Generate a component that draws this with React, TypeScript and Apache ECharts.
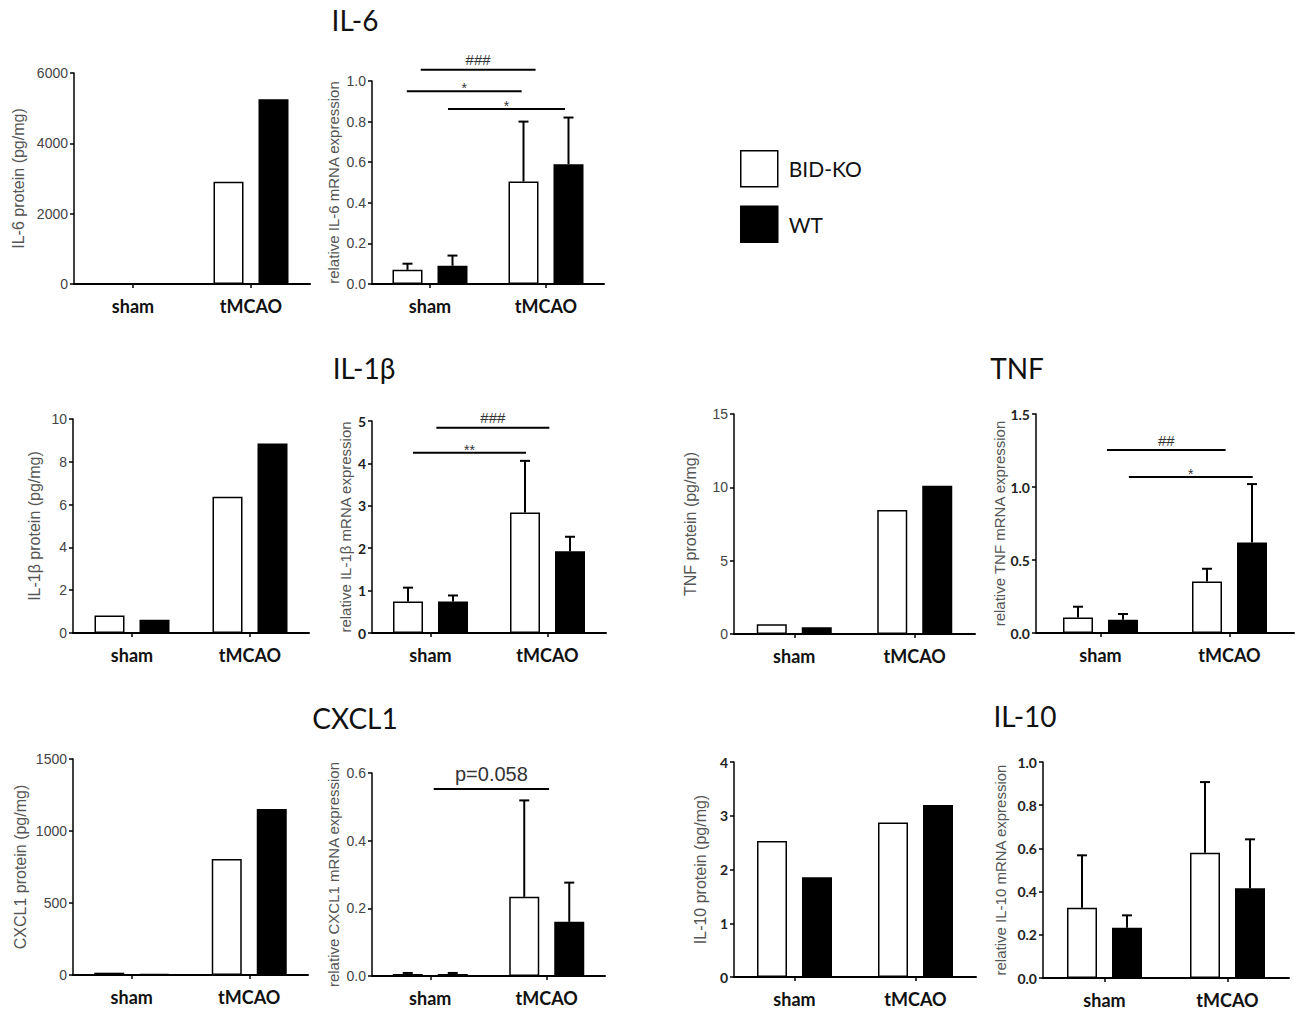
import React, { useEffect, useRef } from 'react';
import * as echarts from 'echarts';

// ---------- data ----------
const CATEGORIES = ['sham', 'tMCAO'];
const GROUPS = ['BID-KO', 'WT'];

const IL6_PROTEIN_KO = [0, 2905];
const IL6_PROTEIN_WT = [0, 5253];
const IL6_MRNA_KO = [0.07, 0.505];
const IL6_MRNA_KO_ERR = [0.03, 0.295];
const IL6_MRNA_WT = [0.09, 0.59];
const IL6_MRNA_WT_ERR = [0.05, 0.23];

const IL1B_PROTEIN_KO = [0.82, 6.37];
const IL1B_PROTEIN_WT = [0.62, 8.85];
const IL1B_MRNA_KO = [0.74, 2.84];
const IL1B_MRNA_KO_ERR = [0.33, 1.22];
const IL1B_MRNA_WT = [0.74, 1.93];
const IL1B_MRNA_WT_ERR = [0.145, 0.34];

const TNF_PROTEIN_KO = [0.66, 8.45];
const TNF_PROTEIN_WT = [0.46, 10.1];
const TNF_MRNA_KO = [0.107, 0.353];
const TNF_MRNA_KO_ERR = [0.073, 0.087];
const TNF_MRNA_WT = [0.09, 0.62];
const TNF_MRNA_WT_ERR = [0.04, 0.4];

const CXCL1_PROTEIN_KO = [16, 805];
const CXCL1_PROTEIN_WT = [7, 1152];
const CXCL1_MRNA_KO = [0.006, 0.234];
const CXCL1_MRNA_KO_ERR = [0.003, 0.285];
const CXCL1_MRNA_WT = [0.006, 0.16];
const CXCL1_MRNA_WT_ERR = [0.003, 0.116];

const IL10_PROTEIN_KO = [2.53, 2.875];
const IL10_PROTEIN_WT = [1.855, 3.2];
const IL10_MRNA_KO = [0.325, 0.58];
const IL10_MRNA_KO_ERR = [0.243, 0.327];
const IL10_MRNA_WT = [0.233, 0.415];
const IL10_MRNA_WT_ERR = [0.057, 0.227];

// significance brackets: [from (category units), to (category units), y value, label]
const IL6_SIG: any[] = [
  [-0.08, 0.91, 1.056, '###'],
  [-0.2, 0.79, 0.949, '*'],
  [0.155, 1.164, 0.862, '*'],
];
const IL1B_SIG: any[] = [
  [0.05, 1.016, 4.84, '###'],
  [-0.15, 0.816, 4.25, '**'],
];
const TNF_SIG: any[] = [
  [0.05, 0.97, 1.253, '##'],
  [0.22, 1.18, 1.068, '*'],
];
const CXCL1_SIG: any[] = [[0.03, 1.02, 0.553, 'p=0.058']];

const TITLES = [
  { text: 'IL-6', x: 355, y: 20 },
  { text: 'IL-1β', x: 364, y: 368 },
  { text: 'TNF', x: 1017, y: 368 },
  { text: 'CXCL1', x: 355, y: 718 },
  { text: 'IL-10', x: 1025, y: 716 },
];

// ---------- layout ----------
const PANELS: any[] = [
  { left: 74, right: 310, top: 73, bottom: 284, max: 6000, interval: 2000, dec: 0, name: 'IL-6 protein (pg/mg)', nameGap: 48, nameSize: 16, ko: IL6_PROTEIN_KO, wt: IL6_PROTEIN_WT },
  { left: 372, right: 604, top: 81, bottom: 284, max: 1.0, interval: 0.2, dec: 1, name: 'relative IL-6 mRNA expression', nameGap: 31, nameSize: 15, ko: IL6_MRNA_KO, wt: IL6_MRNA_WT, koErr: IL6_MRNA_KO_ERR, wtErr: IL6_MRNA_WT_ERR, sig: IL6_SIG },
  { left: 73, right: 309, top: 419, bottom: 633, max: 10, interval: 2, dec: 0, name: 'IL-1β protein (pg/mg)', nameGap: 31, nameSize: 16, ko: IL1B_PROTEIN_KO, wt: IL1B_PROTEIN_WT },
  { left: 372, right: 606, top: 421, bottom: 633, max: 5, interval: 1, dec: 0, name: 'relative IL-1β mRNA expression', nameGap: 19, nameSize: 15, ko: IL1B_MRNA_KO, wt: IL1B_MRNA_WT, koErr: IL1B_MRNA_KO_ERR, wtErr: IL1B_MRNA_WT_ERR, sig: IL1B_SIG, bold: true },
  { left: 734, right: 975, top: 414, bottom: 634, max: 15, interval: 5, dec: 0, name: 'TNF protein (pg/mg)', nameGap: 36, nameSize: 16, ko: TNF_PROTEIN_KO, wt: TNF_PROTEIN_WT },
  { left: 1036, right: 1294, top: 414, bottom: 633, max: 1.5, interval: 0.5, dec: 1, name: 'relative TNF mRNA expression', nameGap: 28, nameSize: 15, ko: TNF_MRNA_KO, wt: TNF_MRNA_WT, koErr: TNF_MRNA_KO_ERR, wtErr: TNF_MRNA_WT_ERR, sig: TNF_SIG, bold: true },
  { left: 73, right: 308, top: 759, bottom: 975, max: 1500, interval: 500, dec: 0, name: 'CXCL1 protein (pg/mg)', nameGap: 45, nameSize: 16, ko: CXCL1_PROTEIN_KO, wt: CXCL1_PROTEIN_WT },
  { left: 372, right: 605, top: 773, bottom: 976, max: 0.6, interval: 0.2, dec: 1, name: 'relative CXCL1 mRNA expression', nameGap: 31, nameSize: 15, ko: CXCL1_MRNA_KO, wt: CXCL1_MRNA_WT, koErr: CXCL1_MRNA_KO_ERR, wtErr: CXCL1_MRNA_WT_ERR, sig: CXCL1_SIG },
  { left: 734, right: 976, top: 762, bottom: 977, max: 4, interval: 1, dec: 0, name: 'IL-10 protein (pg/mg)', nameGap: 26, nameSize: 16, ko: IL10_PROTEIN_KO, wt: IL10_PROTEIN_WT, bold: true },
  { left: 1043, right: 1289, top: 762, bottom: 978, max: 1.0, interval: 0.2, dec: 1, name: 'relative IL-10 mRNA expression', nameGap: 35, nameSize: 15, ko: IL10_MRNA_KO, wt: IL10_MRNA_WT, koErr: IL10_MRNA_KO_ERR, wtErr: IL10_MRNA_WT_ERR, bold: true },
];

const BAR_W = 30;
const BAR_OFFSET = 22.5; // half of (barWidth + gap)

function buildOption() {
  const grid = PANELS.map((p) => ({ left: p.left, top: p.top, width: p.right - p.left, height: p.bottom - p.top }));
  const xAxis = PANELS.map((p, i) => ({
    type: 'category',
    gridIndex: i,
    data: CATEGORIES,
    boundaryGap: true,
    axisLine: { show: true, lineStyle: { color: '#000', width: 2 } },
    axisTick: { show: true, alignWithLabel: true, length: 4, lineStyle: { color: '#000', width: 1.5 } },
    axisLabel: { margin: 13, fontFamily: 'Lato', fontWeight: 'bold', fontSize: 18, color: '#111' },
    splitLine: { show: false },
  }));
  const yAxis = PANELS.map((p, i) => ({
    type: 'value',
    gridIndex: i,
    min: 0,
    max: p.max,
    interval: p.interval,
    axisLine: { show: true, lineStyle: { color: '#000', width: 1.5 } },
    axisTick: { show: true, length: 4, lineStyle: { color: '#000', width: 1.5 } },
    splitLine: { show: false },
    axisLabel: {
      margin: 6,
      fontSize: 14,
      fontFamily: p.bold ? 'Lato' : 'Liberation Sans',
      fontWeight: p.bold ? 'bold' : 'normal',
      color: p.bold ? '#222' : '#444',
      formatter: (v: number) => v.toFixed(p.dec),
    },
    name: p.name,
    nameLocation: 'middle',
    nameGap: p.nameGap,
    nameTextStyle: { fontSize: p.nameSize, color: '#555', fontFamily: 'Liberation Sans' },
  }));

  const series: any[] = [];
  PANELS.forEach((p, i) => {
    series.push({
      type: 'bar', name: GROUPS[0], xAxisIndex: i, yAxisIndex: i, data: p.ko,
      barWidth: BAR_W, barGap: '50%', z: 2,
      itemStyle: { color: '#fff', borderColor: '#000', borderWidth: 1.5 },
    });
    series.push({
      type: 'bar', name: GROUPS[1], xAxisIndex: i, yAxisIndex: i, data: p.wt,
      barWidth: BAR_W, barGap: '50%', z: 2,
      itemStyle: { color: '#000', borderColor: '#000', borderWidth: 1.5 },
    });
    if (p.koErr) {
      const data: number[][] = [];
      p.ko.forEach((v: number, k: number) => data.push([k, v, p.koErr[k], 0]));
      p.wt.forEach((v: number, k: number) => data.push([k, v, p.wtErr[k], 1]));
      series.push({
        type: 'custom', xAxisIndex: i, yAxisIndex: i, z: 3, silent: true,
        encode: { x: 0, y: 1 },
        data,
        renderItem: (params: any, api: any) => {
          const cat = api.value(0);
          const mean = api.value(1);
          const err = api.value(2);
          const g = api.value(3);
          const base = api.coord([cat, mean]);
          const top = api.coord([cat, mean + err]);
          const x = base[0] + (g === 0 ? -BAR_OFFSET : BAR_OFFSET);
          return {
            type: 'group',
            children: [
              { type: 'line', shape: { x1: x, y1: base[1], x2: x, y2: top[1] }, style: { stroke: '#000', lineWidth: 2 } },
              { type: 'line', shape: { x1: x - 5, y1: top[1], x2: x + 5, y2: top[1] }, style: { stroke: '#000', lineWidth: 2 } },
            ],
          };
        },
      });
    }
    if (p.sig) {
      const sig = p.sig;
      series.push({
        type: 'custom', xAxisIndex: i, yAxisIndex: i, z: 3, silent: true,
        encode: { x: 0, y: 1 },
        data: sig.map((s: any[]) => [0, s[2], s[0], s[1]]),
        renderItem: (params: any, api: any) => {
          const y = api.value(1);
          const f1 = api.value(2);
          const f2 = api.value(3);
          const c0 = api.coord([0, y]);
          const c1 = api.coord([1, y]);
          const step = c1[0] - c0[0];
          const xa = c0[0] + f1 * step;
          const xb = c0[0] + f2 * step;
          const text = sig[params.dataIndex][3] as string;
          let dy = -10;
          let font = '15px "Liberation Sans"';
          if (text.startsWith('*')) { dy = -3; font = '14px "Liberation Sans"'; }
          if (text.startsWith('p')) { dy = -15; font = '20px "Liberation Sans"'; }
          return {
            type: 'group',
            children: [
              { type: 'line', shape: { x1: xa, y1: c0[1], x2: xb, y2: c0[1] }, style: { stroke: '#000', lineWidth: 2 } },
              {
                type: 'text',
                style: {
                  text, x: (xa + xb) / 2, y: c0[1] + dy, font,
                  fill: '#333', align: 'center', verticalAlign: 'middle',
                  textAlign: 'center', textVerticalAlign: 'middle',
                },
              },
            ],
          };
        },
      });
    }
  });

  return {
    animation: false,
    backgroundColor: '#fff',
    grid,
    xAxis,
    yAxis,
    series,
    legend: {
      data: GROUPS,
      orient: 'vertical',
      left: 735,
      top: 145,
      itemWidth: 37,
      itemHeight: 36,
      itemGap: 18,
      icon: 'rect',
      selectedMode: false,
      itemStyle: { borderColor: '#000', borderWidth: 1.5 },
      textStyle: { fontSize: 21, fontFamily: 'Lato', color: '#111', padding: [0, 0, 0, 6] },
    },
    graphic: TITLES.map((t) => ({
      type: 'text',
      x: t.x,
      y: t.y,
      style: {
        text: t.text, font: '28px Lato', fill: '#111',
        align: 'center', verticalAlign: 'middle', textAlign: 'center', textVerticalAlign: 'middle',
      },
    })),
  };
}

export default function App() {
  const ref = useRef<HTMLDivElement>(null);
  useEffect(() => {
    document.body.style.margin = '0';
    if (!ref.current) return;
    const chart = echarts.init(ref.current, undefined, { renderer: 'svg' });
    chart.setOption(buildOption() as any);
    return () => chart.dispose();
  }, []);
  return <div ref={ref} style={{ width: 1300, height: 1015 }} />;
}
